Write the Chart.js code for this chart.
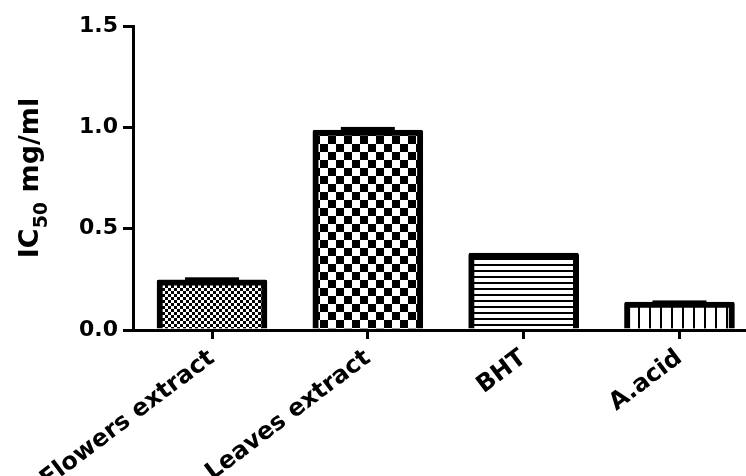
<!DOCTYPE html>
<html>
<head>
<meta charset="utf-8">
<script src="https://cdn.jsdelivr.net/npm/chart.js@4"></script>
<style>
  html, body { margin: 0; padding: 0; background: #fff; }
  #wrap { width: 746px; height: 476px; position: relative; }
</style>
</head>
<body>
<div id="wrap"><canvas id="c" width="746" height="476"></canvas></div>
<script>
// ---- data ----
const categories = ["Flowers extract", "Leaves extract", "BHT", "A.acid"];
const ic50Values = [0.247, 0.987, 0.380, 0.138];
const ic50Errors = [0.013, 0.015, 0.000, 0.008];
const yTickValues = [0, 0.5, 1.0, 1.5];

// ---- patterns ----
const ctx = document.getElementById('c').getContext('2d');
function pat(draw, w, h) {
  const c = document.createElement('canvas');
  c.width = w; c.height = h;
  const g = c.getContext('2d');
  g.fillStyle = '#fff'; g.fillRect(0, 0, w, h);
  g.fillStyle = '#000';
  draw(g, w, h);
  return ctx.createPattern(c, 'repeat');
}
const fineChecker = pat((g) => { g.fillRect(0, 0, 3, 3); g.fillRect(3, 3, 3, 3); }, 6, 6);
const bigChecker = pat((g) => { g.fillRect(0, 0, 8, 8); g.fillRect(8, 8, 8, 8); }, 16, 16);
const hLines = pat((g, w) => { g.fillRect(0, 0, w, 2); }, 8, 6);
const vLines = pat((g, w, h) => { g.fillRect(0, 0, 2, h); }, 11, 8);
const fills = [fineChecker, bigChecker, hLines, vLines];

const Y_TICK_FONT = { family: 'DejaVu Sans', weight: 'bold', size: 22 };
const X_TICK_FONT = { family: 'DejaVu Sans', weight: 'bold', size: 24 };

const errorBars = {
  id: 'errorBars',
  afterDatasetsDraw(chart) {
    const { ctx, scales: { x, y } } = chart;
    ctx.save();
    ctx.fillStyle = '#000';
    ic50Values.forEach((v, i) => {
      const e = ic50Errors[i];
      if (!e) return;
      const cx = x.getPixelForValue(i);
      const yTop = y.getPixelForValue(v + e);
      const yBar = y.getPixelForValue(v);
      ctx.fillRect(cx - 27, yTop, 54, yBar - yTop + 3);
    });
    ctx.restore();
  }
};

const yTitle = {
  id: 'yTitle',
  afterDraw(chart) {
    const { ctx, chartArea } = chart;
    const cy = (chartArea.top + chartArea.bottom) / 2;
    ctx.save();
    ctx.translate(38, cy);
    ctx.rotate(-Math.PI / 2);
    ctx.fillStyle = '#000';
    ctx.textBaseline = 'alphabetic';
    const big = "bold 27px 'DejaVu Sans'";
    const small = "bold 19px 'DejaVu Sans'";
    const parts = [["IC", big, 0], ["50", small, 9], [" mg/ml", big, 0]];
    let total = 0;
    parts.forEach(p => { ctx.font = p[1]; total += ctx.measureText(p[0]).width; });
    let xx = -total / 2;
    parts.forEach(p => {
      ctx.font = p[1];
      ctx.fillText(p[0], xx, p[2]);
      xx += ctx.measureText(p[0]).width;
    });
    ctx.restore();
  }
};

new Chart(ctx, {
  type: 'bar',
  data: {
    datasets: [{
      data: ic50Values.map((v, i) => ({ x: i, y: v })),
      backgroundColor: fills,
      borderColor: '#000',
      borderWidth: 6,
      borderSkipped: 'start',
      borderRadius: 2,
      barThickness: 110
    }]
  },
  options: {
    responsive: false,
    animation: false,
    events: [],
    layout: { padding: { top: 26, right: 0, left: 0, bottom: 0 } },
    plugins: { legend: { display: false }, tooltip: { enabled: false } },
    scales: {
      x: {
        type: 'linear',
        offset: false,
        min: -0.507,
        max: 3.427,
        z: 1,
        afterBuildTicks(scale) { scale.ticks = categories.map((_, i) => ({ value: i })); },
        afterFit(scale) { scale.height = 146; },
        border: { display: true, color: '#000', width: 3 },
        grid: { display: true, offset: false, drawOnChartArea: false, drawTicks: true, tickLength: 9, lineWidth: 3, color: '#000' },
        ticks: {
          autoSkip: false,
          minRotation: 37,
          maxRotation: 37,
          padding: 5,
          color: '#000',
          font: X_TICK_FONT,
          callback: (v) => categories[Math.round(v)]
        }
      },
      y: {
        min: 0,
        max: 1.5,
        z: 1,
        afterBuildTicks(scale) { scale.ticks = yTickValues.map(v => ({ value: v })); },
        afterFit(scale) { scale.width = 133; },
        border: { display: true, color: '#000', width: 3 },
        grid: { display: true, drawOnChartArea: false, drawTicks: true, tickLength: 10, lineWidth: 3, color: '#000' },
        ticks: {
          padding: 5,
          color: '#000',
          font: Y_TICK_FONT,
          callback: (v) => Number(v).toFixed(1)
        }
      }
    }
  },
  plugins: [errorBars, yTitle]
});
</script>
</body>
</html>
